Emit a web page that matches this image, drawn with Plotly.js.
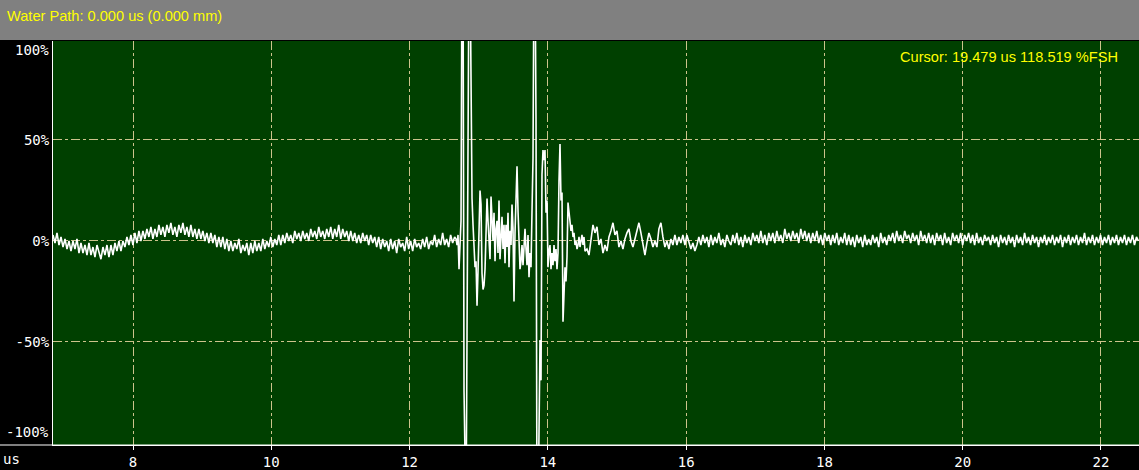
<!DOCTYPE html>
<html>
<head>
<meta charset="utf-8">
<script src="https://cdn.plot.ly/plotly-3.0.1.min.js"></script>
<style>
  html, body { margin: 0; padding: 0; background: #000; }
  #chart { width: 1139px; height: 470px; }
</style>
</head>
<body>
<div id="chart"></div>
<script>
// ---- Data ----
// Amplitude in %FSH; time in microseconds.
// Segment A: pre-echo noise band
const timeStartA = 6.843, timeStepA = 0.0289;
const ampA = [
  3, -1, 4, -2,
  2, -3, 1, -4, 0,
  -5, 0, -4, 1, -6,
  -1, -6, -2, -7, -1,
  -7, -3, -8, -2, -6,
  -9, -3, -7, -2, -8,
  -2, -7, -1, -5, 0,
  -5, 0, -3, 2, -2,
  3, -2, 4, -1, 5,
  0, 5, 1, 6, 2,
  7, 1, 6, 2, 8,
  3, 7, 2, 8, 4, 9, 3, 7, 2, 8,
  4, 9, 3, 7, 2,
  8, 2, 6, 1, 6,
  1, 5, 0, 4, -1,
  4, -1, 3, -3, 2,
  -3, 2, -4, 1, -5,
  0, -5, -1, -4, 1, -6, -2, -5, -1, -7,
  -1, -6, 0, -5, -1,
  -5, 1, -4, 0, -3,
  2, -3, 1, -2, 3,
  -2, 3, -1, 4, 0, 3, -1, 5, 1, 4,
  0, 5, 1, 4, 0, 6, 2, 5, 1, 7, 2, 5, 1, 6, 2,
  7, 1, 6, 2, 8,
  1, 6, 2, 5, 0,
  5, 0, 4, -1, 3,
  -1, 4, 0, 3, -2, 3, -1, 2, -3, 2,
  -4, 1, -3, 0, -5, 1, -4, 0, -6, 1, -3, -1, -5, 2, -4, 0, -5, 1, -3, -1,
  -4, 1, -3, 2, -4, 0, -2, 3, -3, 1, -2, 4, -2, 1, -3, 3, -1, 2
];
// Segment B: echo burst (values beyond +/-100 run off the screen)
const timeStartB = 12.672, timeStepB = 0.01446;
const ampB = [
  1, -2, 3, -14, 0, 10, 140, 140, -74, -140,
  -140, -46, 59, 140, 140, 46, 21, 8, -7, -13,
  -10, -32, -15, 12, 25, 18, -16, -24, -22, -14,
  8, 21, 10, 3, -9, 22, 12, 0, 14, -10,
  6, 10, -6, 20, -9, 3, 12, -4, 8, -11,
  8, -3, 14, -13, 5, -2, 18, 6, -30, 4,
  20, 37, 15, -4, -14, -10, -2, -12, 2, 6,
  -4, -12, 3, -18, -6, -13, 15, 41, 140, 140,
  60, -140, -140, -80, -49, -69, 33, 45, 40, 45,
  14, 20, -13, -5, -2, -14, -6, -12, -2, -10,
  -4, -14, -6, 30, 48, 20, 24, -40, -20, -13,
  -20, -8, 19, 14, 10, 5, 8, 2, 4, -2,
  0, -4, -2, 2, -3, 1, 3, -2, 2, -5
];
// Segment C: ringing and post-echo noise band
const timeStartC = 14.566, timeStepC = 0.0289;
const ampC = [
  -4, -7, 2, 8, 4, 7, -2, 1, -6, -2,
  -5, 2, 5, 9, 3, 5, -3, 0, -4, 1,
  4, 6, 0, -3, 1, 5, 9, 4, -1, -7,
  -1, 4, 1, -3, 0, -3, 6, 9, 2, -3,
  0, -4, 1, -2, 3, -2, 2, -1, 3, -2,
  3, -1, -4, -1, -5, -2, 2, -2, 3, -1,
  2, -3,
  3, -2, 2, -1, 4, -2, 1, -3, 3, 0,
  -2, 3, -1, 4, -2, 2, -3, 3, -1, 2,
  -2, 4, 0, 3, -1, 5, -1, 3, -2, 4,
  0, 4, -1, 5, 0, 3, -1, 6, 1, 4,
  0, 5, 1, 4, -1, 6, 1, 5, 0, 4,
  -1, 4, 0, 5, -1, 3, -2, 4, 0, 3,
  -2, 3, -1, 4, -2, 2, -1, 4, -2, 3,
  -2, 2, -3, 3, -1, 2, -3, 3, -2, 1,
  -2, 3, -1, 2, -3, 4, -1, 2, -2, 3,
  0, 4, -1, 5, 0, 3, -1, 5, 1, 3,
  -1, 4, 0, 3, -2, 5, 0, 3, -1, 4,
  -1, 3, -2, 4, 0, 3, -2, 4, -1, 2,
  -2, 4, 0, 3, -1, 4, -2, 3, 0, 4,
  -1, 3, -2, 4, -1, 2, -2, 3, 0, 2,
  -2, 3, -1, 2, -3, 3, -1, 2, -2, 3,
  -1, 2, -3, 3, -1, 2, -2, 4, -1, 2,
  -2, 3, -1, 2, -3, 2, -1, 3, -2, 2,
  -1, 3, -2, 2, -1, 3, -3, 2, -1, 3,
  -2, 2, -1, 3, -2, 2, -1, 4, -2, 2,
  -1, 3, -2, 2, -1, 3, -2, 2, -1, 3,
  -2, 2, -1, 3, -2, 2, -1, 3, -2, 2,
  -1, 3, -2, 2, 0
];

// Axis ticks / labels
const xTickVals = [8, 10, 12, 14, 16, 18, 20, 22];
const yTickVals = [-50, 0, 50];
const yTickText = ['-50%', '0%', '50%'];
const yEdgeLabels = ['100%', '-100%'];
const xUnitLabel = 'us';
const headerText = 'Water Path: 0.000 us (0.000 mm)';
const cursorText = 'Cursor: 19.479 us 118.519 %FSH';

// ---- Build trace ----
const xs = [], ys = [];
function addSeg(t0, dt, vals) {
  vals.forEach((v, i) => { xs.push(t0 + i * dt); ys.push(v); });
}
addSeg(timeStartA, timeStepA, ampA);
addSeg(timeStartB, timeStepB, ampB);
addSeg(timeStartC, timeStepC, ampC);

const trace = {
  x: xs, y: ys, type: 'scatter', mode: 'lines',
  line: { color: '#ffffff', width: 1.6 },
  hoverinfo: 'skip'
};

const gridColor = 'rgb(205,195,140)';
const tickFont = { family: 'DejaVu Sans Mono, monospace', size: 14, color: '#ffffff' };
const textFont = { family: 'Liberation Sans, Arial, sans-serif', size: 14.6, color: '#ffff00' };

const layout = {
  width: 1139, height: 470,
  margin: { l: 53, r: 0, t: 41, b: 25, pad: 0 },
  paper_bgcolor: '#000000',
  plot_bgcolor: '#004000',
  showlegend: false,
  xaxis: {
    range: [6.843, 22.55],
    tickvals: xTickVals,
    ticktext: xTickVals.map(String),
    showgrid: true, gridcolor: gridColor, griddash: 'dashdot', gridwidth: 1,
    zeroline: false,
    showline: true, linecolor: '#ffffff', linewidth: 1,
    ticks: 'outside', ticklen: 4, tickcolor: '#ffffff', tickwidth: 1,
    tickfont: tickFont,
    fixedrange: true
  },
  yaxis: {
    range: [-101, 99],
    tickvals: yTickVals,
    ticktext: yTickText,
    showgrid: true, gridcolor: gridColor, griddash: 'dashdot', gridwidth: 1,
    zeroline: false,
    showline: true, linecolor: '#ffffff', linewidth: 1,
    ticks: '', ticklen: 0,
    tickfont: tickFont,
    fixedrange: true
  },
  shapes: [
    { type: 'rect', xref: 'paper', yref: 'paper', x0: -0.06, x1: 1.01, y0: 1.0025, y1: 1.11,
      fillcolor: '#808080', line: { width: 0 }, layer: 'above' },
    { type: 'line', xref: 'paper', yref: 'paper', x0: -0.06, x1: 1, y0: 0, y1: 0,
      line: { color: '#ffffff', width: 1 }, layer: 'above' }
  ],
  annotations: [
    { text: headerText, xref: 'paper', yref: 'paper', x: -0.0442, y: 1.0619,
      xanchor: 'left', yanchor: 'middle', showarrow: false, font: textFont },
    { text: cursorText, xref: 'paper', yref: 'paper', x: 0.9825, y: 0.9604,
      xanchor: 'right', yanchor: 'middle', showarrow: false, font: textFont },
    { text: yEdgeLabels[0], xref: 'paper', yref: 'paper', x: 0, y: 0.9777,
      xanchor: 'right', yanchor: 'middle', xshift: -2, showarrow: false, font: tickFont },
    { text: yEdgeLabels[1], xref: 'paper', yref: 'paper', x: 0, y: 0.0322,
      xanchor: 'right', yanchor: 'middle', xshift: -2, showarrow: false, font: tickFont },
    { text: xUnitLabel, xref: 'paper', yref: 'paper', x: -0.0488, y: -0.0347,
      xanchor: 'left', yanchor: 'middle', xshift: 1, showarrow: false, font: tickFont }
  ]
};

Plotly.newPlot('chart', [trace], layout, { displayModeBar: false, staticPlot: true });
</script>
</body>
</html>
